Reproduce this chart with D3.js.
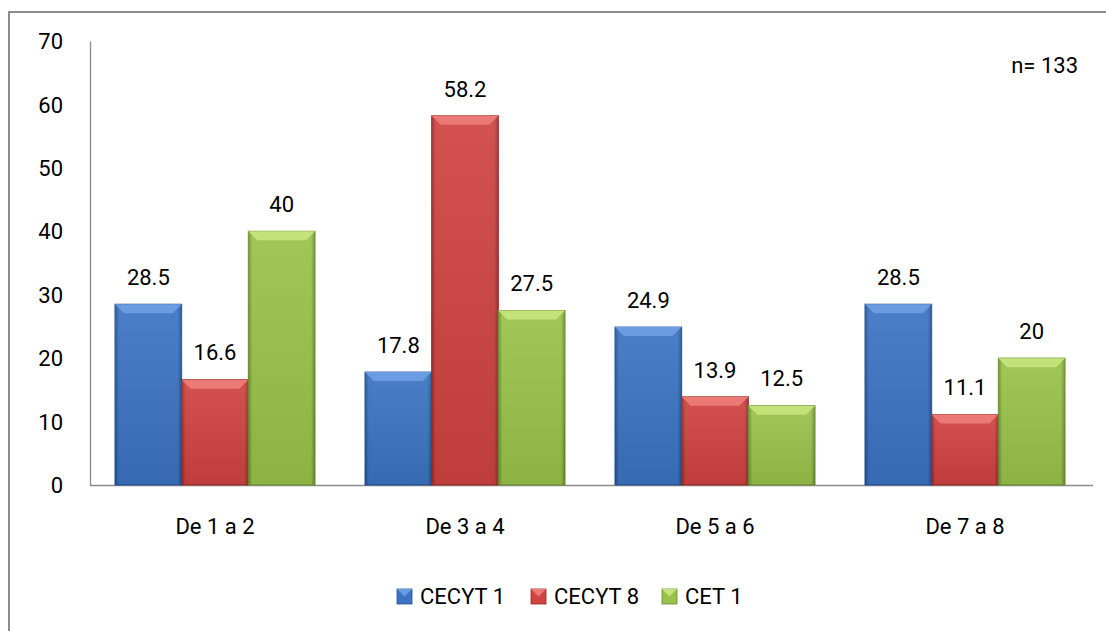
<!DOCTYPE html>
<html>
<head>
<meta charset="utf-8">
<script src="https://cdn.jsdelivr.net/npm/d3@7"></script>
<style>
  body { margin: 0; background: #fff; }
  text { font-family: Roboto, "Noto Sans", sans-serif; fill: #000; }
</style>
</head>
<body>
<svg width="1106" height="631"></svg>
<script>
var categories = ["De 1 a 2", "De 3 a 4", "De 5 a 6", "De 7 a 8"];
var seriesNames = ["CECYT 1", "CECYT 8", "CET 1"];
var cecyt1 = [28.5, 17.8, 24.9, 28.5];
var cecyt8 = [16.6, 58.2, 13.9, 11.1];
var cet1 = [40, 27.5, 12.5, 20];
var yTicks = [0, 10, 20, 30, 40, 50, 60, 70];
var note = "n= 133";

var svg = d3.select("svg"),
    width = +svg.attr("width"),
    height = +svg.attr("height");

var margin = {left: 90, right: 16, top: 41, bottom: 146};
var fontSize = "22px";

var colors = [
    {base: "#3b73c2", light: "#6b9be0", dark: "#23508f"},
    {base: "#cf4340", light: "#eb7a77", dark: "#952a28"},
    {base: "#99c24a", light: "#c3e37a", dark: "#6b8c2c"}
];

var series = [cecyt1, cecyt8, cet1];
var data = categories.map(function (c, i) {
    return {cat: c, vals: series.map(function (s, j) { return {key: j, v: s[i]}; })};
});

// outer frame
svg.append("rect")
    .attr("x", 9).attr("y", 12)
    .attr("width", width + 20).attr("height", height + 20)
    .attr("fill", "none")
    .attr("stroke", "#8c8c8c")
    .attr("stroke-width", 2);

var x0 = d3.scaleBand()
    .domain(categories)
    .range([margin.left, width - margin.right])
    .paddingInner(0.2)
    .paddingOuter(0.1);

var x1 = d3.scaleBand()
    .domain([0, 1, 2])
    .range([0, x0.bandwidth()]);

var y = d3.scaleLinear()
    .domain([0, 70])
    .range([height - margin.bottom, margin.top]);

var defs = svg.append("defs");
colors.forEach(function (c, i) {
    var g = defs.append("linearGradient").attr("id", "grad" + i)
        .attr("x1", "0").attr("y1", "0").attr("x2", "1").attr("y2", "0");
    g.append("stop").attr("offset", "0%").attr("stop-color", c.dark);
    g.append("stop").attr("offset", "6%").attr("stop-color", c.base);
    g.append("stop").attr("offset", "94%").attr("stop-color", c.base);
    g.append("stop").attr("offset", "100%").attr("stop-color", c.dark);
    var v = defs.append("linearGradient").attr("id", "vgrad" + i)
        .attr("x1", "0").attr("y1", "0").attr("x2", "0").attr("y2", "1");
    v.append("stop").attr("offset", "0%").attr("stop-color", "#fff").attr("stop-opacity", 0.08);
    v.append("stop").attr("offset", "100%").attr("stop-color", "#000").attr("stop-opacity", 0.08);
});

// y axis
var yAxis = svg.append("g")
    .attr("transform", "translate(" + margin.left + ",0)")
    .call(d3.axisLeft(y).tickValues(yTicks).tickSize(0).tickPadding(27));
yAxis.select(".domain").attr("stroke", "#8c8c8c").attr("stroke-width", 1.3);
yAxis.selectAll("text").style("font-size", fontSize).attr("dy", "0.35em");

// x axis
var xAxis = svg.append("g")
    .attr("transform", "translate(0," + y(0) + ")")
    .call(d3.axisBottom(x0).tickSize(0));
xAxis.select(".domain").attr("stroke", "#8c8c8c").attr("stroke-width", 1.3)
    .attr("d", "M" + margin.left + ",0.5H" + (width - margin.right + 3));
xAxis.selectAll("text").style("font-size", fontSize).attr("y", 41).attr("dy", "0.35em");

var group = svg.selectAll(".group")
    .data(data)
    .enter().append("g")
    .attr("class", "group")
    .attr("transform", function (d) { return "translate(" + x0(d.cat) + ",0)"; });

var bars = group.selectAll(".bar")
    .data(function (d) { return d.vals; })
    .enter().append("g")
    .attr("class", "bar");

var bev = 9;

bars.append("rect")
    .attr("x", function (d) { return x1(d.key); })
    .attr("y", function (d) { return y(d.v); })
    .attr("width", x1.bandwidth())
    .attr("height", function (d) { return y(0) - y(d.v); })
    .attr("fill", function (d) { return "url(#grad" + d.key + ")"; })
    .attr("stroke", function (d) { return colors[d.key].dark; })
    .attr("stroke-width", 1);

bars.append("rect")
    .attr("x", function (d) { return x1(d.key); })
    .attr("y", function (d) { return y(d.v); })
    .attr("width", x1.bandwidth())
    .attr("height", function (d) { return y(0) - y(d.v); })
    .attr("fill", function (d) { return "url(#vgrad" + d.key + ")"; });

// bevel top
bars.append("path")
    .attr("fill", function (d) { return colors[d.key].light; })
    .attr("d", function (d) {
        var xa = x1(d.key), xb = xa + x1.bandwidth(), yt = y(d.v);
        return "M" + xa + "," + yt + "L" + xb + "," + yt +
            "L" + (xb - bev) + "," + (yt + bev) + "L" + (xa + bev) + "," + (yt + bev) + "Z";
    });

bars.append("text")
    .attr("x", function (d) { return x1(d.key) + x1.bandwidth() / 2; })
    .attr("y", function (d) { return y(d.v) - 27; })
    .attr("dy", "0.35em")
    .attr("text-anchor", "middle")
    .style("font-size", fontSize)
    .text(function (d) { return d.v; });

svg.append("text")
    .attr("x", 1078).attr("y", 65)
    .attr("dy", "0.35em")
    .attr("text-anchor", "end")
    .style("font-size", fontSize)
    .text(note);

// legend
var legendX = [397, 531, 662];
var legend = svg.selectAll(".legend")
    .data(seriesNames)
    .enter().append("g")
    .attr("class", "legend")
    .attr("transform", function (d, i) { return "translate(" + legendX[i] + ",589)"; });

legend.append("rect")
    .attr("width", 15).attr("height", 15)
    .attr("fill", function (d, i) { return colors[i].base; })
    .attr("stroke", function (d, i) { return colors[i].dark; })
    .attr("stroke-width", 0.8);
legend.append("path")
    .attr("fill", function (d, i) { return colors[i].light; })
    .attr("d", "M0,0L15,0L7.5,7.5Z");

legend.append("text")
    .attr("x", 23).attr("y", 7.5)
    .attr("dy", "0.35em")
    .style("font-size", fontSize)
    .text(function (d) { return d; });
</script>
</body>
</html>
